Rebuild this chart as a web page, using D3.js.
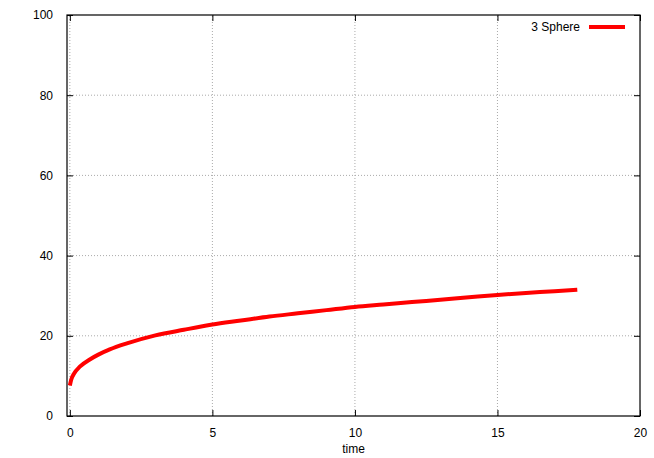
<!DOCTYPE html>
<html>
<head>
<meta charset="utf-8">
<script src="https://cdn.jsdelivr.net/npm/d3@7"></script>
<style>
  body { margin: 0; background: #fff; }
  text { font-family: "Liberation Sans", Arial, sans-serif; font-size: 12px; fill: #000; }
</style>
</head>
<body>
<svg id="chart"></svg>
<script>
// values
const seriesName = "3 Sphere";
const time = [0, 0.05, 0.15, 0.35, 0.7, 1.0, 1.4, 2.0, 3.0, 4.0, 5.0, 6.0, 7.0, 8.0, 9.0, 10.0, 11.0, 12.0, 13.0, 14.0, 15.0, 16.0, 17.0, 17.8];
const values = [7.6, 9.1, 10.6, 12.3, 14.1, 15.3, 16.6, 18.1, 20.1, 21.5, 22.8, 23.8, 24.8, 25.6, 26.4, 27.2, 27.8, 28.4, 29.0, 29.6, 30.2, 30.7, 31.1, 31.5];
const xTicks = [0, 5, 10, 15, 20];
const yTicks = [0, 20, 40, 60, 80, 100];

const width = 654, height = 458;
const margin = { top: 15, right: 14, bottom: 42, left: 67 };

const svg = d3.select("#chart").attr("width", width).attr("height", height);

const x = d3.scaleLinear().domain([-0.1, 20]).range([margin.left, width - margin.right]);
const y = d3.scaleLinear().domain([0, 100]).range([height - margin.bottom, margin.top]);

// grid (dotted)
svg.append("g")
  .selectAll("line.vgrid")
  .data(xTicks.filter(d => d > -0.1 && d < 20))
  .enter().append("line")
  .attr("x1", d => x(d)).attr("x2", d => x(d))
  .attr("y1", y(0)).attr("y2", y(100))
  .attr("stroke", "#aaa").attr("stroke-width", 1)
  .attr("stroke-dasharray", "1,2");

svg.append("g")
  .selectAll("line.hgrid")
  .data(yTicks.filter(d => d > 0 && d < 100))
  .enter().append("line")
  .attr("x1", x(-0.1)).attr("x2", x(20))
  .attr("y1", d => y(d)).attr("y2", d => y(d))
  .attr("stroke", "#aaa").attr("stroke-width", 1)
  .attr("stroke-dasharray", "1,2");

// axes with inward ticks, mirrored on top/right
const tick = 6;
svg.append("g")
  .attr("transform", `translate(0,${y(0)})`)
  .call(d3.axisBottom(x).tickValues(xTicks).tickSizeInner(-tick).tickSizeOuter(0).tickPadding(12))
  .call(g => g.select(".domain").remove());

svg.append("g")
  .attr("transform", `translate(0,${y(100)})`)
  .call(d3.axisTop(x).tickValues(xTicks).tickSizeInner(-tick).tickSizeOuter(0).tickFormat(""))
  .call(g => g.select(".domain").remove());

svg.append("g")
  .attr("transform", `translate(${x(-0.1)},0)`)
  .call(d3.axisLeft(y).tickValues(yTicks).tickSizeInner(-tick).tickSizeOuter(0).tickPadding(14))
  .call(g => g.select(".domain").remove());

svg.append("g")
  .attr("transform", `translate(${x(20)},0)`)
  .call(d3.axisRight(y).tickValues(yTicks).tickSizeInner(-tick).tickSizeOuter(0).tickFormat(""))
  .call(g => g.select(".domain").remove());

svg.selectAll(".tick line").attr("stroke", "#000");
svg.selectAll(".tick text").style("font-family", "'Liberation Sans', Arial, sans-serif").style("font-size", "12px");

// frame
svg.append("rect")
  .attr("x", x(-0.1)).attr("y", y(100))
  .attr("width", x(20) - x(-0.1)).attr("height", y(0) - y(100))
  .attr("fill", "none").attr("stroke", "#000").attr("stroke-width", 1.2);

// x label
svg.append("text")
  .attr("x", (x(-0.1) + x(20)) / 2).attr("y", 453)
  .attr("text-anchor", "middle")
  .text("time");

// curve
const line = d3.line()
  .x((d, i) => x(time[i]))
  .y(d => y(d))
  .curve(d3.curveMonotoneX);

svg.append("path")
  .datum(values)
  .attr("fill", "none")
  .attr("stroke", "#ff0000")
  .attr("stroke-width", 4)
  .attr("d", line);

// legend
const legY = 27;
svg.append("text")
  .attr("x", 580).attr("y", legY + 4)
  .attr("text-anchor", "end")
  .text(seriesName);
svg.append("line")
  .attr("x1", 589).attr("x2", 625)
  .attr("y1", legY).attr("y2", legY)
  .attr("stroke", "#ff0000").attr("stroke-width", 4);
</script>
</body>
</html>
